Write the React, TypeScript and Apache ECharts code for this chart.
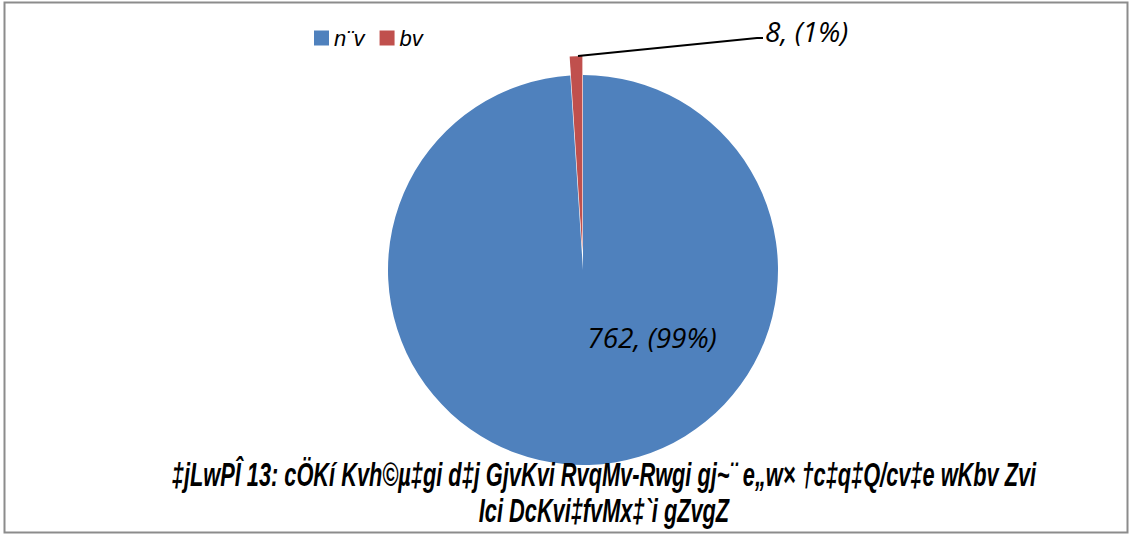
import React, { useEffect, useRef } from "react";
import * as echarts from "echarts";

const categories = ["n¨v", "bv"];
const values = [762, 8];
const percents = ["99%", "1%"];
const colors = ["#4F81BD", "#C0504D"];
const titleLines = [
  "‡jLwPÎ 13: cÖKí Kvh©µ‡gi d‡j GjvKvi RvqMv-Rwgi gj~¨ e„w× †c‡q‡Q/cv‡e wKbv Zvi",
  "Ici DcKvi‡fvMx‡`i gZvgZ",
];

const labelText = (i: number) => `${values[i]}, (${percents[i]})`;

export default function App() {
  const ref = useRef<HTMLDivElement>(null);
  useEffect(() => {
    if (!ref.current) return;
    const chart = echarts.init(ref.current, null, { renderer: "svg" });
    const titleFont = "italic bold 33px 'Liberation Sans', Arial, sans-serif";
    const ctx = document.createElement("canvas").getContext("2d")!;
    ctx.font = titleFont;
    const w1 = ctx.measureText(titleLines[0]).width || 1200;
    const titleScale = 865 / w1;
    const labelFont = "italic 28px 'Open Sans', 'Noto Sans', sans-serif";
    chart.setOption({
      animation: false,
      color: colors,
      graphic: [
        {
          type: "rect",
          shape: { x: 4.5, y: 2.5, width: 1123, height: 530 },
          style: { fill: "none", stroke: "#8c8c8c", lineWidth: 2 },
          z: 0,
        },
        {
          type: "polyline",
          shape: { points: [[578, 56], [757, 38], [763, 38]] },
          style: { stroke: "#000", lineWidth: 2, fill: "none" },
          z: 50,
        },
        {
          type: "text",
          x: 765,
          y: 31,
          z: 50,
          style: {
            text: labelText(1),
            font: labelFont,
            fill: "#000",
            textAlign: "left",
            textVerticalAlign: "middle",
          },
        },
        ...titleLines.map((t, i) => ({
          type: "text",
          x: 604,
          y: 475 + i * 36,
          scaleX: titleScale,
          z: 100,
          style: {
            text: t,
            font: titleFont,
            fill: "#000",
            textAlign: "center",
            textVerticalAlign: "middle",
          },
        })),
      ],
      legend: {
        left: 309,
        top: 22,
        itemWidth: 15,
        itemHeight: 15,
        itemGap: 15,
        icon: "rect",
        textStyle: {
          fontFamily: "'Liberation Sans', Arial, sans-serif",
          fontStyle: "italic",
          fontSize: 22,
          color: "#000",
        },
        data: categories,
      },
      series: [
        {
          type: "pie",
          center: [583, 270],
          radius: 195,
          startAngle: 90,
          clockwise: true,
          selectedMode: "single",
          selectedOffset: 19,
          emphasis: { disabled: true },
          data: categories.map((c, i) => ({
            name: c,
            value: values[i],
            selected: i === 1,
            label: {
              show: i === 0,
              position: "inside",
              formatter: () => labelText(i),
              fontFamily: "'Open Sans', 'Noto Sans', sans-serif",
              fontStyle: "italic",
              fontSize: 28,
              color: "#000",
            },
            labelLine: { show: false },
          })),
          labelLayout: (p: any) => {
            if (p.dataIndex === 0) {
              return { x: 652, y: 337, align: "center", verticalAlign: "middle" };
            }
            return {};
          },
        },
      ],
    });
    return () => chart.dispose();
  }, []);
  return (
    <div
      ref={ref}
      style={{ position: "absolute", left: 0, top: 0, width: 1132, height: 536, background: "#fff" }}
    />
  );
}
